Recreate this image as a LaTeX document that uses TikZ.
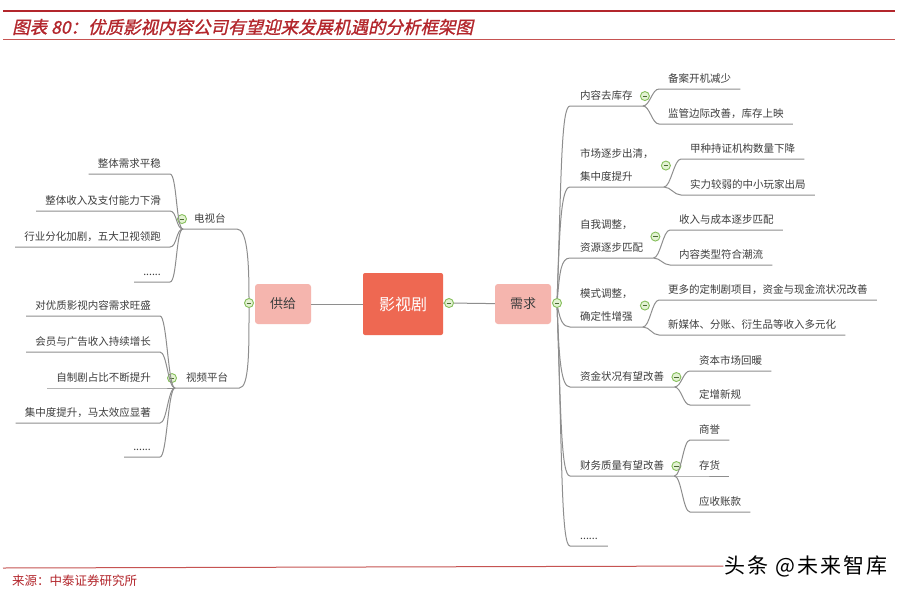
\documentclass[tikz,border=0pt]{standalone}
\usepackage{fontspec}
\setmainfont{Noto Sans CJK SC}
\newfontfamily\titlefont[FakeSlant=0.22,FakeBold=1.2]{Noto Sans CJK SC}
\usetikzlibrary{positioning}
\definecolor{hdred}{HTML}{B3262C}
\definecolor{hdline}{HTML}{C65452}
\definecolor{corered}{HTML}{EE6852}
\definecolor{hubpink}{HTML}{F5B5AE}
\definecolor{stemgray}{HTML}{8E8E8E}
\definecolor{txtgray}{HTML}{3E3E3E}
\definecolor{knobring}{HTML}{86BF5C}
\definecolor{knobfill}{HTML}{E3F2D3}
\tikzset{
  stem/.style={draw=stemgray,line width=1pt},
  leaf/.style={font=\fontsize{10.5}{12}\selectfont,text=txtgray,inner ysep=5pt,text height=8pt,text depth=1.5pt},
  leafl/.style={leaf,anchor=south east,inner xsep=9pt},
  leafr/.style={leaf,anchor=south west,inner xsep=9pt},
  midl/.style={leaf,anchor=south west,inner xsep=11pt},
  midr/.style={leaf,anchor=south west,inner xsep=10pt},
  twoline/.style={align=left,font=\fontsize{10.5}{23}\selectfont,text height=31pt,text depth=1.5pt},
  hub/.style={fill=hubpink,rounded corners=3pt,minimum width=56pt,minimum height=40pt,font=\fontsize{13}{13}\selectfont,text=txtgray},
  core/.style={fill=corered,rounded corners=2pt,minimum width=80pt,minimum height=62pt,font=\fontsize{16}{16}\selectfont,text=white},
  knob/.style={circle,draw=knobring,fill=knobfill,line width=0.9pt,minimum size=9pt,inner sep=0pt,
    path picture={\draw[knobring!55!black,line width=0.9pt]
      ([xshift=-2.4pt]path picture bounding box.center) -- ([xshift=2.4pt]path picture bounding box.center);}},
  twig/.style={out=0,in=180,out distance=7pt,in distance=7pt},
}

\begin{document}
\begin{tikzpicture}[x=1pt,y=-1pt]
  \fill[white] (0,0) rectangle (903,595);
  \useasboundingbox (0,0) rectangle (903,595);
  % header and footer
  \draw[hdred,line width=2.2pt] (3,11) -- (895,11);
  \node[anchor=west,inner sep=0pt,text=hdred,font=\titlefont\fontsize{17.5}{18}\selectfont] (title) at (12,27) {图表 80：优质影视内容公司有望迎来发展机遇的分析框架图};
  \draw[hdline,line width=1pt] (3,39) -- (895,39);
  \node[anchor=east,inner sep=1pt,font=\fontsize{21}{21}\selectfont\addfontfeature{LetterSpace=10}] (mark) at (889,566) {头条 @未来智库};
  \draw[hdline,line width=1pt] (3,568) -- (mark.west);
  \node[anchor=west,inner sep=0pt,text=hdred,font=\fontsize{12.5}{12.5}\selectfont] (src) at (12,581) {来源：中泰证券研究所};

  % centre
  \node[core] (drama) at (403,304) {影视剧};
  \node[hub] (supply) at (283,304) {供给};
  \node[hub] (demand) at (523,304) {需求};
  \node[knob] (sk) at (249,303) {};
  \node[knob] (rk) at (449,303) {};
  \node[knob] (dk) at (557,303) {};
  \draw[stem] (supply) -- (drama);
  \draw[stem] (drama) -- (rk);
  \draw[stem] (rk) -- (demand);

  % supply side
  \coordinate (tvj) at (183,229);
  \coordinate (vpj) at (175,388);
  \node[midl] (tv) at (tvj) {电视台};
  \node[midl] (vp) at (vpj) {视频平台};
  \node[knob] at ([xshift=-1pt]tv.west) {};
  \node[knob] at ([xshift=-3pt]vp.west) {};
  \draw[stem] (tv.south west) -- (tv.south east) to[out=0,in=90,out distance=10pt,in distance=40pt] (sk);
  \draw[stem] (vp.south west) -- (vp.south east) to[out=0,in=270,out distance=10pt,in distance=40pt] (sk);

  \node[leafl] (tv1) at (170,174) {整体需求平稳};
  \node[leafl] (tv2) at (170,211) {整体收入及支付能力下滑};
  \node[leafl] (tv3) at (170,247) {行业分化加剧，五大卫视领跑};
  \node[leafl] (tv4) at (170,282) {......};
  \foreach \n in {tv1,tv2,tv3,tv4}
    \draw[stem] (\n.south west) -- (\n.south east) to[twig] (tvj);

  \node[leafl] (vp1) at (160,316) {对优质影视内容需求旺盛};
  \node[leafl] (vp2) at (160,352) {会员与广告收入持续增长};
  \node[leafl] (vp3) at (160,388) {自制剧占比不断提升};
  \node[leafl] (vp4) at (160,423) {集中度提升，马太效应显著};
  \node[leafl] (vp5) at (160,457) {......};
  \foreach \n in {vp1,vp2,vp3,vp4,vp5}
    \draw[stem] (\n.south west) -- (\n.south east) to[twig] (vpj);

  % demand side
  \node[midr] (cs1) at (570,106) {内容去库存};
  \node[midr,twoline] (cs2) at (570,187) {市场逐步出清，\\集中度提升};
  \node[midr,twoline] (cs3) at (570,258) {自我调整，\\资源逐步匹配};
  \node[midr,twoline] (cs4) at (570,327) {模式调整，\\确定性增强};
  \node[midr] (cs5) at (570,387) {资金状况有望改善};
  \node[midr] (cs6) at (570,476) {财务质量有望改善};
  \node[midr] (cs7) at (570,546) {......};
  \foreach \n in {cs1,cs2,cs3,cs4,cs5,cs6}
    \node[knob] at ([xshift=2pt]\n.east) {};

  \draw[stem] (dk) to[out=88,in=180,out distance=120pt,in distance=9pt] (cs1.south west) -- (cs1.south east);
  \draw[stem] (dk) to[out=88,in=180,out distance=70pt,in distance=9pt] (cs2.south west) -- (cs2.south east);
  \draw[stem] (dk) to[out=85,in=180,out distance=26pt,in distance=9pt] (cs3.south west) -- (cs3.south east);
  \draw[stem] (dk) to[out=-80,in=180,out distance=12pt,in distance=7pt] (cs4.south west) -- (cs4.south east);
  \draw[stem] (dk) to[out=-88,in=180,out distance=50pt,in distance=9pt] (cs5.south west) -- (cs5.south east);
  \draw[stem] (dk) to[out=-88,in=180,out distance=105pt,in distance=9pt] (cs6.south west) -- (cs6.south east);
  \draw[stem] (dk) to[out=-88,in=180,out distance=145pt,in distance=9pt] (cs7.south west) -- (cs7.south east);

  \node[leafr] (d11) at (659,89) {备案开机减少};
  \node[leafr] (d12) at (659,124) {监管边际改善，库存上映};
  \node[leafr] (d21) at (681,159) {甲种持证机构数量下降};
  \node[leafr] (d22) at (681,195) {实力较弱的中小玩家出局};
  \node[leafr] (d31) at (670,230) {收入与成本逐步匹配};
  \node[leafr] (d32) at (670,265) {内容类型符合潮流};
  \node[leafr] (d41) at (659,300) {更多的定制剧项目，资金与现金流状况改善};
  \node[leafr] (d42) at (659,335) {新媒体、分账、衍生品等收入多元化};
  \node[leafr] (d51) at (690,371) {资本市场回暖};
  \node[leafr] (d52) at (690,405) {定增新规};
  \node[leafr] (d61) at (690,440) {商誉};
  \node[leafr] (d62) at (690,476) {存货};
  \node[leafr] (d63) at (690,512) {应收账款};
  \foreach \p/\c in {cs1/d11,cs1/d12,cs2/d21,cs2/d22,cs3/d31,cs3/d32,cs4/d41,cs4/d42,
                     cs5/d51,cs5/d52,cs6/d61,cs6/d62,cs6/d63}
    \draw[stem] (\p.south east) to[twig] (\c.south west) -- (\c.south east);
\end{tikzpicture}
\end{document}
